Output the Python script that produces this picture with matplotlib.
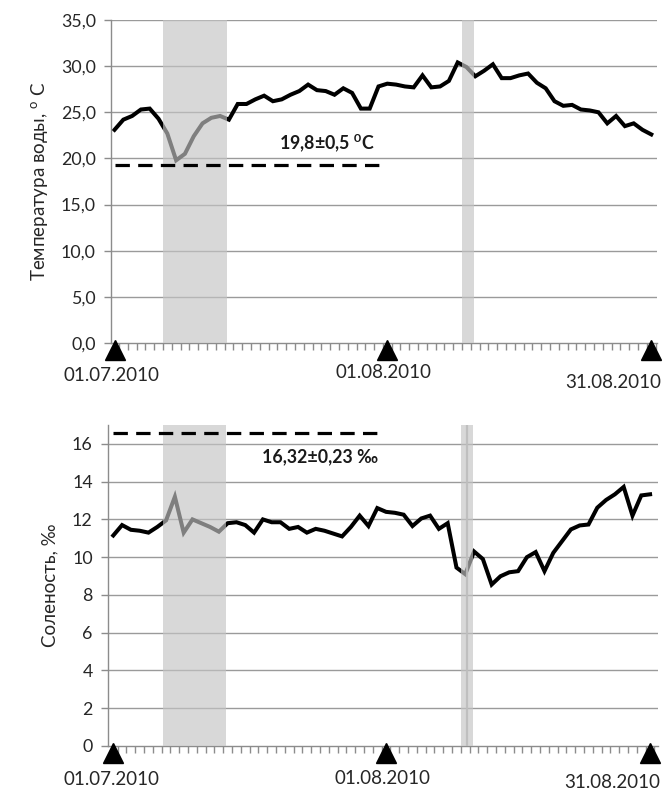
import matplotlib
matplotlib.use('Agg')
import matplotlib.pyplot as plt
import matplotlib.transforms as mtransforms
import numpy as np

plt.rcParams['font.family'] = ['Lato', 'DejaVu Sans']
plt.rcParams['mathtext.fontset'] = 'custom'
plt.rcParams['mathtext.rm'] = 'Lato'
plt.rcParams['mathtext.bf'] = 'Lato:bold'

days = np.arange(62)
temperature = [23.1, 24.2, 24.6, 25.3, 25.4, 24.3, 22.7, 19.8, 20.5, 22.4,
               23.8, 24.4, 24.6, 24.2, 25.9, 25.9, 26.4, 26.8, 26.2, 26.4,
               26.9, 27.3, 28.0, 27.4, 27.3, 26.9, 27.6, 27.1, 25.4, 25.4,
               27.8, 28.1, 28.0, 27.8, 27.7, 29.0, 27.7, 27.8, 28.4, 30.4,
               29.9, 28.9, 29.5, 30.2, 28.7, 28.7, 29.0, 29.2, 28.2, 27.6,
               26.2, 25.7, 25.8, 25.3, 25.2, 25.0, 23.8, 24.6, 23.5, 23.8,
               23.1, 22.6]
salinity = [11.15, 11.7, 11.45, 11.4, 11.3, 11.6, 11.95, 13.2, 11.3, 12.0,
            11.8, 11.6, 11.35, 11.8, 11.85, 11.7, 11.3, 12.0, 11.85, 11.85,
            11.5, 11.6, 11.3, 11.5, 11.4, 11.25, 11.1, 11.6, 12.2, 11.65,
            12.6, 12.4, 12.35, 12.25, 11.65, 12.05, 12.2, 11.5, 11.8, 9.45,
            9.1, 10.3, 9.9, 8.55, 8.99, 9.2, 9.26, 10.0, 10.27, 9.26,
            10.23, 10.85, 11.47, 11.68, 11.73, 12.62, 13.03, 13.33, 13.72, 12.2,
            13.27, 13.33]

marker_days = [0, 31, 61]
date_labels = ['01.07.2010', '01.08.2010', '31.08.2010']

temp_bands = [(5.55, 12.75), (39.5, 40.8)]
sal_bands = [(5.7, 12.8), (39.5, 40.9)]

temp_mean_value = 19.3
sal_mean_value = 16.57
mean_span = [0, 30]
temp_mean_text = r'19,8±0,5 $^{\mathbf{0}}$C'
sal_mean_text = '16,32±0,23 ‰'

temp_ticks = [0, 5, 10, 15, 20, 25, 30, 35]
sal_ticks = [0, 2, 4, 6, 8, 10, 12, 14, 16]

W, H = 666, 794
fig = plt.figure(figsize=(W / 100, H / 100), dpi=100)

def px_axes(l, r, t, b):
    return fig.add_axes([l / W, 1 - b / H, (r - l) / W, (b - t) / H])

ax1 = px_axes(111, 657, 20, 343)
ax2 = px_axes(108, 658, 425, 746)

TXT = '#262626'
GRID = '#9a9a9a'

def style(ax, xlim, ylim, yticks, fmt, ylabel, label_pos):
    ax.set_xlim(*xlim)
    ax.set_ylim(*ylim)
    for s in ['top', 'right']:
        ax.spines[s].set_visible(False)
    ax.spines['left'].set_color('#8c8c8c')
    ax.spines['bottom'].set_color('#8c8c8c')
    ax.spines['left'].set_linewidth(1.0)
    ax.spines['bottom'].set_linewidth(1.0)
    ax.set_yticks(yticks)
    ax.set_yticklabels([fmt(v) for v in yticks], fontsize=12.8, color=TXT)
    ax.tick_params(axis='y', length=5, width=1, color='#8c8c8c', pad=6)
    ax.set_xticks(np.arange(0.5, 61.6, 1.0))
    ax.set_xticklabels([])
    ax.tick_params(axis='x', length=5, width=1, color='#8c8c8c', direction='out')
    for v in yticks[1:]:
        ax.axhline(v, color=GRID, lw=1.0, zorder=0.5)
    ax.set_ylabel(ylabel, fontsize=13.5, color=TXT)
    ax.yaxis.set_label_coords(*label_pos)

style(ax1, (-0.4, 61.65), (0, 35), temp_ticks,
      lambda v: f'{v:.1f}'.replace('.', ','),
      r'Температура воды, $^{\mathrm{o}}$ С', (-0.110, 0.5))
style(ax2, (-0.6, 61.9), (0, 17), sal_ticks,
      lambda v: f'{v:d}', 'Соленость, ‰', (-0.090, 0.5))

def draw(ax, values, bands, mean_value, mean_text, text_xy, label_y, band_mark=False):
    ax.plot(days, values, color='black', lw=2.9, solid_joinstyle='miter', zorder=2)
    for (a, b) in bands:
        ax.axvspan(a, b, color='#c4c4c4', alpha=0.65, lw=0, zorder=3)
    if band_mark:
        a, b = bands[1]
        ax.axvline((a + b) / 2, color='#bdbdbd', lw=1.6, alpha=0.9, zorder=3.1)
    ax.plot(mean_span, [mean_value, mean_value], color='black', lw=2.3,
            dashes=(4.5, 2.6), zorder=4)
    ax.text(text_xy[0], text_xy[1], mean_text, ha='right', va='center',
            fontsize=12.8, fontweight='bold', color='#1a1a1a', zorder=5)
    off = mtransforms.ScaledTranslation(0, -7 / 100, fig.dpi_scale_trans)
    ax.plot(marker_days, [0, 0, 0], linestyle='none', marker='^', ms=15,
            color='black', clip_on=False, zorder=6, transform=ax.transData + off)
    trans = mtransforms.blended_transform_factory(ax.transData, ax.transAxes)
    for (x, y, ha), lab in zip(label_y, date_labels):
        ax.text(x, y, lab, ha=ha, va='center', fontsize=13.5, color=TXT,
                transform=trans, clip_on=False)

draw(ax1, temperature, temp_bands, temp_mean_value, temp_mean_text, (29.6, 21.6),
     [(-0.3, -0.102, 'center'), (30.6, -0.090, 'center'), (62.1, -0.121, 'right')])
draw(ax2, salinity, sal_bands, sal_mean_value, sal_mean_text, (30.1, 15.3),
     [(-0.15, -0.103, 'center'), (30.6, -0.100, 'center'), (62.2, -0.115, 'right')],
     band_mark=True)

fig.savefig('out.png', dpi=100)
